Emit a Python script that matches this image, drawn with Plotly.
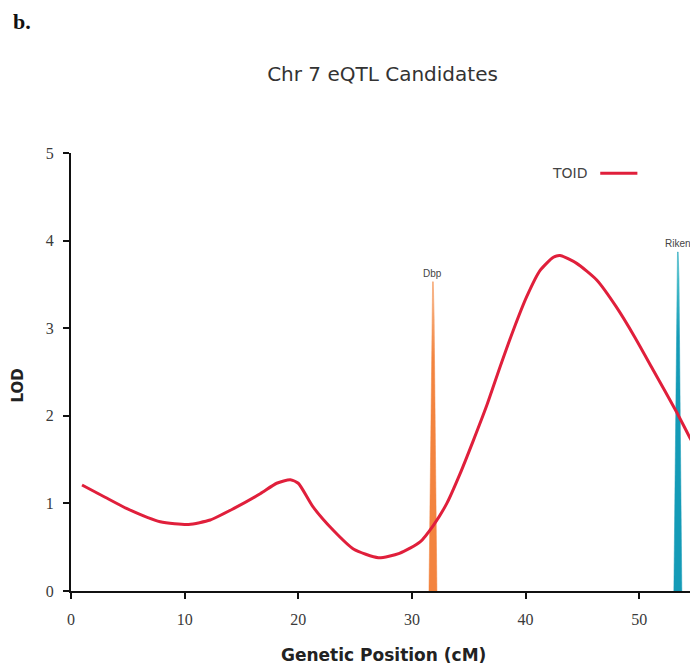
import plotly.graph_objects as go

# LOD profile (TOID)
pos_cm = [0.97, 3.0, 4.93, 7.85, 10.35, 12.25, 14.3, 16.65, 18.1, 19.3, 20.0, 21.3,
          23.1, 24.85, 27.05, 28.9, 30.72, 31.89, 33.07, 34.24, 35.41, 36.59, 37.76,
          38.93, 40.1, 41.28, 42.45, 43.03, 44.5, 46.26, 48.0, 49.6, 51.24, 53.3, 54.5, 55.5]
lod = [1.21, 1.07, 0.94, 0.79, 0.76, 0.81, 0.94, 1.11, 1.23, 1.27, 1.23, 0.96,
       0.69, 0.48, 0.38, 0.43, 0.56, 0.75, 1.00, 1.34, 1.72, 2.12, 2.56,
       2.98, 3.36, 3.66, 3.81, 3.83, 3.74, 3.55, 3.24, 2.90, 2.52, 2.04, 1.74, 1.50]

# candidate genes
genes = ["Dbp", "Riken"]
gene_pos = [31.85, 53.4]
gene_lod = [3.53, 3.87]
gene_dense = [3.13, 3.55]
gene_colors = [["#f3843f", "#f8c7a2"], ["#149bb7", "#6fdad8"]]

x_ticks = [0, 10, 20, 30, 40, 50]
y_ticks = [0, 1, 2, 3, 4, 5]

fig = go.Figure()

for g, p, h, hd, cols in zip(genes, gene_pos, gene_lod, gene_dense, gene_colors):
    fig.add_trace(go.Scatter(
        x=[p - 0.35, p - 0.1, p - 0.03, p + 0.03, p + 0.1, p + 0.35, p - 0.35],
        y=[0, hd, h, h, hd, 0, 0],
        mode="lines", line=dict(width=0.5, color=cols[0]),
        fill="toself",
        fillgradient=dict(type="vertical", colorscale=[[0, cols[0]], [0.75, cols[0]], [1, cols[1]]]),
        hoverinfo="skip", showlegend=False))
    fig.add_annotation(x=p, y=h, text=g, showarrow=False, yanchor="bottom", yshift=1,
                       font=dict(family="Liberation Sans, Arial", size=10, color="#444"))

fig.add_trace(go.Scatter(x=pos_cm, y=lod, mode="lines", name="TOID",
                         line=dict(color="#e01f3b", width=3, shape="spline", smoothing=0.6),
                         showlegend=False))

# legend (text then line)
fig.add_annotation(xref="paper", yref="paper", x=0.837, y=0.954, text="TOID",
                   showarrow=False, xanchor="right", yanchor="middle",
                   font=dict(family="DejaVu Sans, Arial", size=14, color="#444"))
fig.add_shape(type="line", xref="paper", yref="paper", x0=0.855, x1=0.915, y0=0.954, y1=0.954,
              line=dict(color="#e01f3b", width=3))

# panel label
fig.add_annotation(xref="paper", yref="paper", x=-0.097, y=1.30, text="<b>b.</b>",
                   showarrow=False, xanchor="left", yanchor="middle",
                   font=dict(family="Liberation Serif, Times New Roman", size=22, color="#111"))

# axis titles
fig.add_annotation(xref="paper", yref="paper", x=0.505, y=-0.147, text="<b>Genetic Position (cM)</b>",
                   showarrow=False, xanchor="center", yanchor="middle",
                   font=dict(family="DejaVu Sans, Arial", size=17, color="#222"))
fig.add_annotation(xref="paper", yref="paper", x=-0.085, y=0.47, text="<b>LOD</b>", textangle=-90,
                   showarrow=False, xanchor="center", yanchor="middle",
                   font=dict(family="DejaVu Sans, Arial", size=15, color="#222"))

fig.update_layout(
    width=690, height=670,
    margin=dict(l=71, r=0, t=153, b=79),
    paper_bgcolor="white", plot_bgcolor="white",
    title=dict(text="Chr 7 eQTL Candidates", xref="container", yref="container",
               x=382.5 / 690, y=1 - 74 / 670, xanchor="center", yanchor="middle",
               font=dict(family="DejaVu Sans, Arial", size=20, color="#333")),
    xaxis=dict(range=[0, 54.47], tickvals=x_ticks, showgrid=False, zeroline=False,
               showline=True, linecolor="#111", linewidth=2,
               ticks="outside", ticklen=6, tickwidth=2, tickcolor="#111",
               ticklabelstandoff=7,
               tickfont=dict(family="Liberation Serif, Times New Roman", size=16, color="#3a3a3a")),
    yaxis=dict(range=[0, 5], tickvals=y_ticks, showgrid=False, zeroline=False,
               showline=True, linecolor="#111", linewidth=2,
               ticks="outside", ticklen=6, tickwidth=2, tickcolor="#111",
               ticklabelstandoff=6,
               tickfont=dict(family="Liberation Serif, Times New Roman", size=16, color="#3a3a3a")),
)

fig.write_html("out.html")
